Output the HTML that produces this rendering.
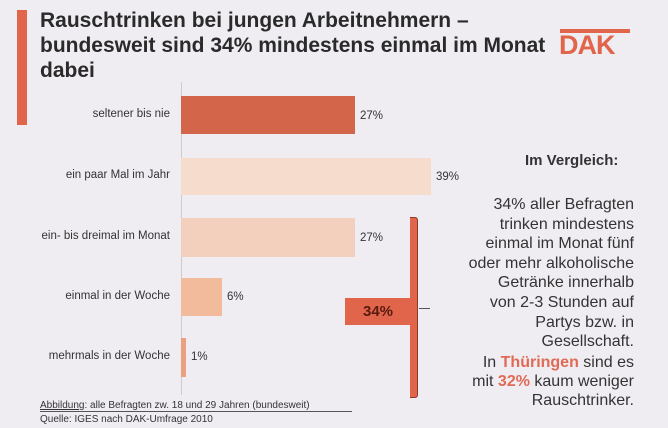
<!DOCTYPE html>
<html><head><meta charset="utf-8"><style>
body{margin:0;width:668px;height:428px;background:#efedf2;position:relative;overflow:hidden;font-family:"Liberation Sans",sans-serif;color:#222}
div,span{position:absolute}
.t{left:40px;font-size:21px;font-weight:bold;color:#2a2a2a;line-height:25px;top:8px;width:520px}
.lab{right:498px;font-size:11.5px;color:#333;white-space:nowrap}
.pct{font-size:11.5px;color:#333}
.bar{left:181px}
.r{right:34px;text-align:right;font-size:16px;color:#333;line-height:19.6px;white-space:nowrap}
</style></head><body>
<div style="left:17px;top:10px;width:10px;height:115px;background:#e0654a"></div>
<div class="t">Rauschtrinken bei jungen Arbeitnehmern –<br>bundesweit sind 34% mindestens einmal im Monat<br>dabei</div>
<div style="left:560px;top:29px;width:70px;height:4px;background:#e0654a"></div>
<div style="left:559px;top:30px;font-size:27px;font-weight:bold;color:#e0654a;letter-spacing:-1px">DAK</div>
<div style="left:181px;top:82px;width:1px;height:313px;background:#ccc"></div>
<div class="bar" style="top:96px;width:174px;height:38px;background:#d3654b"></div>
<div class="bar" style="top:158px;width:250px;height:37px;background:#f6dccd"></div>
<div class="bar" style="top:218px;width:174px;height:39px;background:#f2d0bd"></div>
<div class="bar" style="top:278px;width:41px;height:38px;background:#f2bb9c"></div>
<div class="bar" style="top:338px;width:5px;height:39px;background:#eba080"></div>
<div class="lab" style="top:108px">seltener bis nie</div>
<div class="lab" style="top:169px">ein paar Mal im Jahr</div>
<div class="lab" style="top:230px">ein- bis dreimal im Monat</div>
<div class="lab" style="top:290px">einmal in der Woche</div>
<div class="lab" style="top:350px">mehrmals in der Woche</div>
<div class="pct" style="left:360px;top:110px">27%</div>
<div class="pct" style="left:436px;top:171px">39%</div>
<div class="pct" style="left:360px;top:232px">27%</div>
<div class="pct" style="left:227px;top:291px">6%</div>
<div class="pct" style="left:191px;top:351px">1%</div>
<div style="left:345px;top:298px;width:66px;height:27px;background:#e0654a;color:#5a1a10;font-weight:bold;font-size:15px;text-align:center;line-height:27px">34%</div>
<div style="left:410px;top:217px;width:7px;height:179px;background:#e0654a;border:1px solid #8a3a2a;border-left:none;border-radius:0 3px 3px 0"></div>
<div style="left:419px;top:308px;width:11px;height:1px;background:#555"></div>
<div style="left:525px;top:152px;font-size:15px;font-weight:bold;color:#333">Im Vergleich:</div>
<div class="r" style="top:195px">34% aller Befragten<br>trinken mindestens<br>einmal im Monat fünf<br>oder mehr alkoholische<br>Getränke innerhalb<br>von 2-3 Stunden auf<br>Partys bzw. in<br>Gesellschaft.</div>
<div class="r" style="top:353px;line-height:19px">In <b style="color:#e06a55">Thüringen</b> sind es<br>mit <b style="color:#e06a55">32%</b> kaum weniger<br>Rauschtrinker.</div>
<div style="left:40px;top:400px;font-size:10px;color:#333;width:312px;border-bottom:1px solid #555"><u>Abbildung</u>: alle Befragten zw. 18 und 29 Jahren (bundesweit)</div>
<div style="left:40px;top:414px;font-size:10px;color:#333">Quelle: IGES nach DAK-Umfrage 2010</div>
</body></html>
